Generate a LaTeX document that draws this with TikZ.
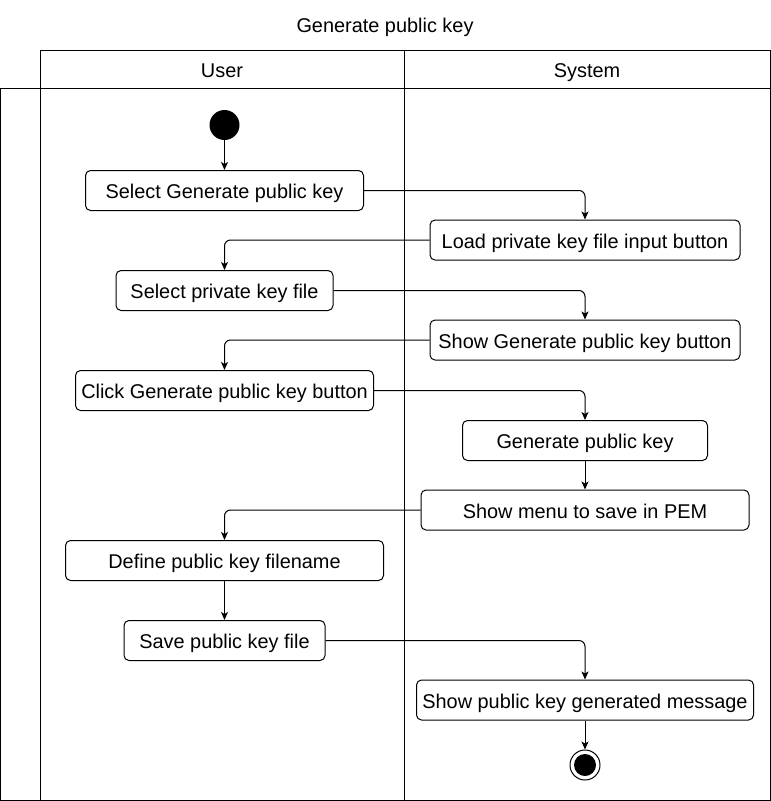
\documentclass[tikz,border=0pt]{standalone}
\usepackage{fontspec}
\setmainfont{Liberation Sans}
\usetikzlibrary{arrows.meta}
\begin{document}
\begin{tikzpicture}[x=1pt,y=-1pt,
  every node/.style={font=\fontsize{19.9}{23}\selectfont, text height=19pt, text depth=3pt},
  act/.style={draw, line width=1pt, rounded corners=5pt, minimum height=40pt, inner sep=0pt, fill=white},
  flow/.style={line width=1pt, rounded corners=6pt, -{Stealth[length=8pt,width=7pt,inset=2pt]}},
  frame/.style={line width=1pt}]
\useasboundingbox (0,0) rectangle (771,801);
% title
\node (title) at (385,24.3) {Generate public key};
% swimlanes
\draw[frame] (0,88) rectangle (770,800);
\draw[frame] (40,50) rectangle (770,88);
\draw[frame] (40,50) -- (40,800);
\draw[frame] (404,50) -- (404,800);
\node (lu) at (222,69.3) {User};
\node (ls) at (587,69.3) {System};
% nodes
\node[circle, fill=black, minimum size=30pt, inner sep=0pt, text height=, text depth=] (start) at (224.5,125) {};
\node[act, minimum width=278pt] (a1) at (224.5,190.5) {Select Generate public key};
\node[act, minimum width=310pt] (a2) at (585,240) {Load private key file input button};
\node[act, minimum width=217pt] (a3) at (224.5,290.5) {Select private key file};
\node[act, minimum width=310pt] (a4) at (585,340) {Show Generate public key button};
\node[act, minimum width=298pt] (a5) at (224.5,390.5) {Click Generate public key button};
\node[act, minimum width=245pt] (a6) at (585,440.5) {Generate public key};
\node[act, minimum width=328pt] (a7) at (585,510) {Show menu to save in PEM};
\node[act, minimum width=318pt] (a8) at (224.5,560.5) {Define public key filename};
\node[act, minimum width=201pt] (a9) at (224.5,640.5) {Save public key file};
\node[act, minimum width=337pt] (a10) at (585,700) {Show public key generated message};
\node[circle, draw, line width=1pt, fill=white, minimum size=30pt, inner sep=0pt, text height=, text depth=] (end) at (585,765) {};
\node[circle, fill=black, minimum size=22pt, inner sep=0pt, text height=, text depth=] (endin) at (end) {};
% flows
\draw[flow] (start) -- (a1);
\draw[flow] (a1.east) -| (a2.north);
\draw[flow] (a2.west) -| (a3.north);
\draw[flow] (a3.east) -| (a4.north);
\draw[flow] (a4.west) -| (a5.north);
\draw[flow] (a5.east) -| (a6.north);
\draw[flow] (a6) -- (a7);
\draw[flow] (a7.west) -| (a8.north);
\draw[flow] (a8) -- (a9);
\draw[flow] (a9.east) -| (a10.north);
\draw[flow] (a10) -- (end);
\end{tikzpicture}
\end{document}
